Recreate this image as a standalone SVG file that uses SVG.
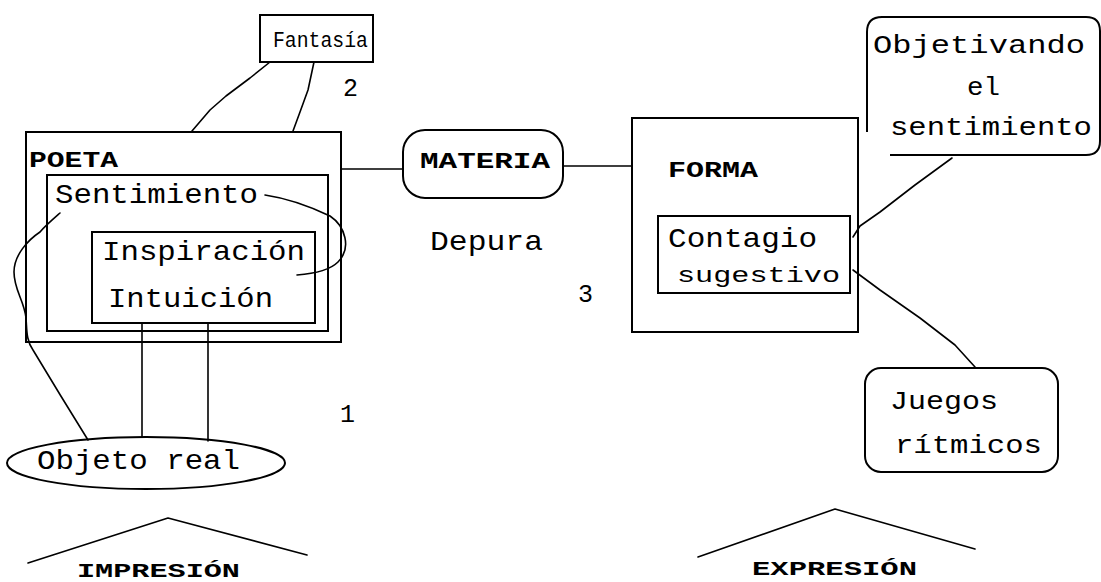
<svg xmlns="http://www.w3.org/2000/svg" width="1101" height="582" viewBox="0 0 1101 582">
  <style>
    .box { fill: none; stroke: #000; stroke-width: 2; }
    .ln { fill: none; stroke: #000; stroke-width: 1.6; stroke-linecap: round; stroke-linejoin: round; }
    .t { font-family: "Liberation Mono", "DejaVu Sans Mono", monospace; fill: #000; }
    .big { font-size: 28px; }
    .mid { font-size: 26px; }
    .sm { font-size: 22px; }
    .num { font-size: 25px; }
    .cap { font-size: 22px; font-weight: bold; }
    .foot { font-size: 20px; font-weight: bold; }
  </style>
  <rect width="1101" height="582" fill="#fff"/>

  <g id="connectors">
    <!-- Fantasía to POETA -->
    <path class="ln" d="M270 62 L250 78 L226 96 L210 110 L192 131"/>
    <path class="ln" d="M314 62 L308 90 L300 112 L293 131"/>
    <!-- POETA – MATERIA – FORMA -->
    <line class="ln" x1="341" y1="169" x2="403" y2="169"/>
    <line class="ln" x1="563" y1="166" x2="632" y2="166"/>
    <!-- Sentimiento loop to Inspiración -->
    <path class="ln" d="M265 195 C285 198 305 204 330 216 C345 226 352 248 338 262 C328 272 310 274 297 275"/>
    <!-- Sentimiento down to Objeto real -->
    <path class="ln" d="M60 213 C52 220 45 226 40 232 C28 240 14 255 14 272 C14 290 24 300 26 318 C27 330 26 340 33 350 C45 370 60 395 88 440"/>
    <!-- Inspiración/Intuición to Objeto real -->
    <line class="ln" x1="142" y1="323" x2="142" y2="437"/>
    <line class="ln" x1="208" y1="323" x2="208" y2="441"/>
    <!-- Contagio to callouts -->
    <path class="ln" d="M952 158 L915 185 L880 212 L860 226 L853 237"/>
    <path class="ln" d="M853 270 L880 290 L920 318 L955 345 L975 367"/>
    <!-- roofs -->
    <path class="ln" d="M28 563 L168 518 L307 555"/>
    <path class="ln" d="M698 557 L835 509 L975 549"/>
  </g>

  <g id="fantasia">
    <rect class="box" x="260" y="15" width="113" height="47"/>
    <text class="t sm" x="273" y="47" textLength="95" lengthAdjust="spacingAndGlyphs">Fantasía</text>
  </g>
  <text class="t num" x="343" y="96">2</text>

  <g id="poeta">
    <rect class="box" x="26" y="132" width="315" height="210"/>
    <text class="t cap" x="29" y="167" textLength="89" lengthAdjust="spacingAndGlyphs">POETA</text>
  </g>
  <g id="sentimiento">
    <rect class="box" x="47" y="175" width="281" height="156"/>
    <text class="t big" x="55" y="203" textLength="203" lengthAdjust="spacingAndGlyphs">Sentimiento</text>
  </g>
  <g id="inspiracion">
    <rect class="box" x="92" y="232" width="223" height="91"/>
    <text class="t big" x="102" y="260" textLength="203" lengthAdjust="spacingAndGlyphs">Inspiración</text>
    <text class="t big" x="108" y="307" textLength="165" lengthAdjust="spacingAndGlyphs">Intuición</text>
  </g>

  <g id="objeto-real">
    <ellipse class="box" cx="146" cy="463" rx="139" ry="26"/>
    <text class="t big" x="37" y="469" textLength="203" lengthAdjust="spacingAndGlyphs">Objeto real</text>
  </g>
  <text class="t num" x="340" y="422">1</text>

  <g id="materia">
    <rect class="box" x="403" y="130" width="160" height="68" rx="22" ry="22"/>
    <text class="t cap" x="420" y="168" textLength="130" lengthAdjust="spacingAndGlyphs">MATERIA</text>
  </g>
  <text class="t big" x="430" y="250" textLength="113" lengthAdjust="spacingAndGlyphs">Depura</text>
  <text class="t num" x="578" y="302">3</text>

  <g id="forma">
    <rect class="box" x="632" y="118" width="226" height="214"/>
    <text class="t cap" x="668" y="177" textLength="90" lengthAdjust="spacingAndGlyphs">FORMA</text>
  </g>
  <g id="contagio">
    <rect class="box" x="658" y="216" width="192" height="77"/>
    <text class="t big" x="668" y="247" textLength="149" lengthAdjust="spacingAndGlyphs">Contagio</text>
    <text class="t sm" x="677" y="282" textLength="163" lengthAdjust="spacingAndGlyphs">sugestivo</text>
  </g>

  <g id="objetivando">
    <path class="box" d="M867 132 V32 Q867 17 882 17 H1086 Q1100 17 1100 31 V141 Q1100 155 1086 155 H890"/>
    <text class="t mid" x="873" y="53" textLength="212" lengthAdjust="spacingAndGlyphs">Objetivando</text>
    <text class="t mid" x="967" y="95" textLength="33" lengthAdjust="spacingAndGlyphs">el</text>
    <text class="t mid" x="890" y="135" textLength="202" lengthAdjust="spacingAndGlyphs">sentimiento</text>
  </g>

  <g id="juegos">
    <rect class="box" x="865" y="368" width="193" height="104" rx="16" ry="16"/>
    <text class="t mid" x="890" y="409" textLength="108" lengthAdjust="spacingAndGlyphs">Juegos</text>
    <text class="t mid" x="895" y="453" textLength="147" lengthAdjust="spacingAndGlyphs">rítmicos</text>
  </g>

  <g id="impresion">
    <text class="t foot" x="77" y="577" textLength="163" lengthAdjust="spacingAndGlyphs">IMPRESIÓN</text>
  </g>
  <g id="expresion">
    <text class="t foot" x="752" y="575" textLength="165" lengthAdjust="spacingAndGlyphs">EXPRESIÓN</text>
  </g>
</svg>
